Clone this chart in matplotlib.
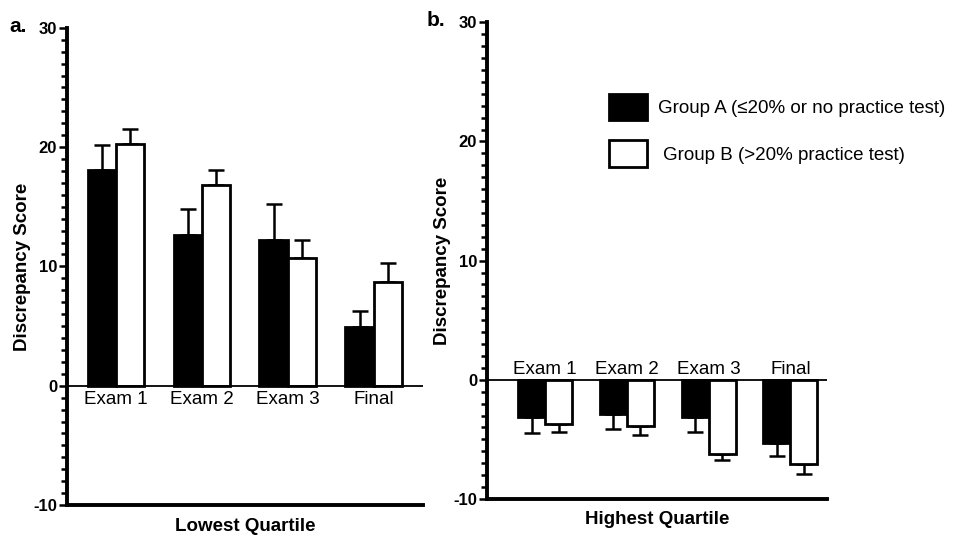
import matplotlib
matplotlib.use("Agg")
import matplotlib.pyplot as plt
import numpy as np
from matplotlib.ticker import MultipleLocator, FuncFormatter
from matplotlib.patches import Rectangle

plt.rcParams['font.family'] = ['Liberation Sans', 'DejaVu Sans']
plt.rcParams['axes.unicode_minus'] = False

categories = ["Exam 1", "Exam 2", "Exam 3", "Final"]
# Panel a: Lowest quartile
low_a = [18.1, 12.6, 12.2, 4.9]
low_a_err = [2.1, 2.2, 3.0, 1.4]
low_b = [20.3, 16.8, 10.7, 8.7]
low_b_err = [1.2, 1.3, 1.5, 1.6]
# Panel b: Highest quartile
high_a = [-3.1, -2.9, -3.1, -5.3]
high_a_err = [1.4, 1.2, 1.3, 1.1]
high_b = [-3.7, -3.9, -6.2, -7.1]
high_b_err = [0.7, 0.7, 0.5, 0.8]

legend_labels = ["Group A (\u226420% or no practice test)", "Group B (>20% practice test)"]

fig = plt.figure(figsize=(9.72, 5.38), dpi=100)
axa = fig.add_axes([0.0689, 0.0613, 0.366, 0.887])
axb = fig.add_axes([0.501, 0.0725, 0.350, 0.886])

w = 0.33
x = np.arange(len(categories))


def draw(ax, va, ea, vb, eb, xlim, xlabel, label_above):
    for vals, errs, off, fc in [(va, ea, -w / 2, 'black'), (vb, eb, w / 2, 'white')]:
        vals = np.array(vals)
        errs = np.array(errs)
        pos = vals >= 0
        lower = np.where(pos, 0, errs)
        upper = np.where(pos, errs, 0)
        ax.errorbar(x + off, vals, yerr=[lower, upper], fmt='none', ecolor='black',
                    elinewidth=1.8, capsize=6, capthick=1.8, zorder=2)
        ax.bar(x + off, vals, width=w, color=fc, edgecolor='black', linewidth=2.0, zorder=3)
    ax.axhline(0, color='black', lw=1.3, zorder=4)
    ax.set_xlim(*xlim)
    ax.set_ylim(-10, 30)
    ax.yaxis.set_major_locator(MultipleLocator(10))
    ax.yaxis.set_minor_locator(MultipleLocator(1))
    ax.yaxis.set_major_formatter(FuncFormatter(lambda v, p: f"{int(round(v))}"))
    for s in ['top', 'right']:
        ax.spines[s].set_visible(False)
    ax.spines['left'].set_linewidth(2.8)
    ax.spines['bottom'].set_linewidth(2.8)
    ax.set_xticks([])
    ax.tick_params(axis='y', which='major', length=6, width=1.8, pad=1, labelsize=12)
    ax.tick_params(axis='y', which='minor', length=4, width=1.8)
    for lab in ax.get_yticklabels():
        lab.set_fontweight('bold')
    ax.set_ylabel("Discrepancy Score", fontsize=13.5, fontweight='bold', labelpad=2)
    ax.set_xlabel(xlabel, fontsize=13.5, fontweight='bold', labelpad=9)
    for i, c in enumerate(categories):
        if label_above:
            ax.text(i, 0.15, c, ha='center', va='bottom', fontsize=13.5)
        else:
            ax.text(i, -0.45, c, ha='center', va='top', fontsize=13.5)


draw(axa, low_a, low_a_err, low_b, low_b_err, (-0.57, 3.57), "Lowest Quartile", False)
draw(axb, high_a, high_a_err, high_b, high_b_err, (-0.71, 3.45), "Highest Quartile", True)

W, H = 972, 538
fig.text(9 / W, 1 - 26 / H, "a.", fontsize=15, fontweight='bold', ha='left', va='center')
fig.text(427 / W, 1 - 21 / H, "b.", fontsize=15, fontweight='bold', ha='left', va='center')

# legend drawn in figure coordinates
for (y0, y1), fc, lab, tx in [((96, 122), 'black', legend_labels[0], 658),
                              ((142, 169), 'white', legend_labels[1], 663)]:
    fig.patches.append(Rectangle((611 / W, 1 - y1 / H), 38 / W, (y1 - y0) / H,
                                 transform=fig.transFigure, facecolor='#bbbbbb',
                                 edgecolor='none', alpha=0.5, zorder=1))
    fig.patches.append(Rectangle((609 / W, 1 - (y1 - 2) / H), 38 / W, (y1 - y0) / H,
                                 transform=fig.transFigure, facecolor=fc,
                                 edgecolor='black', linewidth=2.0, zorder=2))
    fig.text(tx / W, 1 - ((y0 + y1) / 2) / H, lab, fontsize=13.5, ha='left', va='center')

fig.savefig("out.png", dpi=100)
